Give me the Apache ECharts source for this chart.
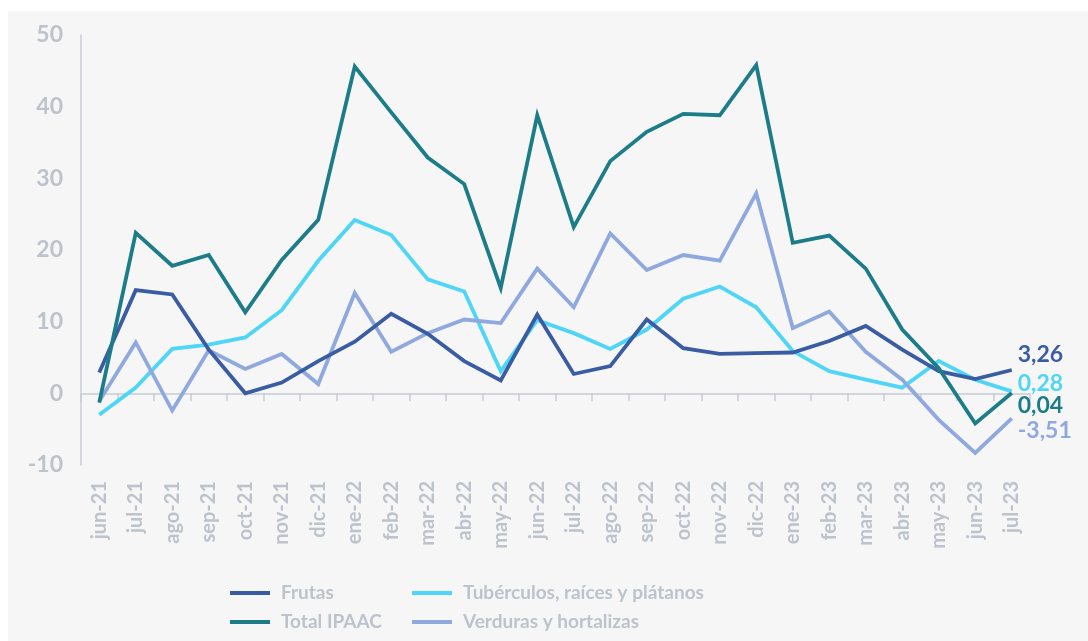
<!DOCTYPE html>
<html>
<head>
<meta charset="utf-8">
<script src="https://cdn.jsdelivr.net/npm/echarts@6/dist/echarts.min.js"></script>
<style>
html,body{margin:0;padding:0;background:#ffffff;}
#panel{position:absolute;left:8px;top:11px;width:1080px;height:630px;background:#f6f6f6;}
#chart{position:absolute;left:0;top:0;width:1088px;height:641px;}
</style>
</head>
<body>
<div id="panel"></div>
<div id="chart"></div>
<script>
const categories = ['jun-21','jul-21','ago-21','sep-21','oct-21','nov-21','dic-21','ene-22','feb-22','mar-22','abr-22','may-22','jun-22','jul-22','ago-22','sep-22','oct-22','nov-22','dic-22','ene-23','feb-23','mar-23','abr-23','may-23','jun-23','jul-23'];
const frutas = [2.9,14.4,13.8,6.1,0.0,1.5,4.5,7.2,11.1,8.3,4.5,1.8,11.0,2.7,3.8,10.3,6.3,5.5,5.6,5.7,7.3,9.4,6.1,3.1,2.0,3.26];
const tuberculos = [-3.0,0.8,6.2,6.8,7.8,11.6,18.5,24.2,22.1,15.9,14.2,3.1,10.2,8.4,6.2,8.9,13.2,14.9,12.0,5.9,3.1,1.9,0.8,4.5,1.9,0.28];
const totalIPAAC = [-1.3,22.4,17.8,19.3,11.3,18.6,24.2,45.6,39.2,32.9,29.2,14.7,38.8,23.2,32.4,36.5,39.0,38.8,45.8,21.0,22.0,17.4,8.9,3.5,-4.2,0.04];
const verduras = [-1.1,7.1,-2.4,6.0,3.4,5.5,1.3,14.0,5.8,8.4,10.3,9.8,17.4,12.0,22.3,17.2,19.3,18.5,27.9,9.1,11.4,5.8,1.9,-3.7,-8.3,-3.51];
const yTicks = {min:-10, max:50, interval:10};

const FONT = 'Lato';
const GREY = '#bcc3cc';

function mkSeries(name, data, color, dy) {
  return {
    name: name, type: 'line', data: data, xAxisIndex: 0, yAxisIndex: 0,
    symbol: 'none', showSymbol: false,
    lineStyle: {color: color, width: 3.8, join: 'miter'},
    itemStyle: {color: color},
    emphasis: {disabled: true},
    endLabel: {
      show: true, distance: 6, offset: [0, dy],
      formatter: p => p.value.toFixed(2).replace('.', ','),
      color: color, fontFamily: FONT, fontWeight: 'bold', fontSize: 23
    }
  };
}

const legendText = {color: GREY, fontFamily: FONT, fontWeight: 'bold', fontSize: 19, lineHeight: 20, padding: [0,0,0,6]};

const chart = echarts.init(document.getElementById('chart'), null, {renderer: 'canvas'});
chart.setOption({
  backgroundColor: 'transparent',
  animation: false,
  grid: {left: 81, right: 58, top: 35, bottom: 176, containLabel: false},
  xAxis: [
    {
      type: 'category', data: categories, position: 'bottom', boundaryGap: true,
      axisLine: {show: false, onZero: false}, axisTick: {show: false},
      axisLabel: {rotate: 90, margin: 16, interval: 0, color: GREY, fontFamily: FONT, fontWeight: 'bold', fontSize: 20}
    },
    {
      type: 'category', data: categories, position: 'bottom', boundaryGap: true,
      axisLine: {show: true, onZero: true, lineStyle: {color: '#c8cdd5', width: 1.5}},
      axisTick: {show: true, interval: 0, length: 8, inside: false, lineStyle: {color: '#c8cdd5', width: 1.5}},
      axisLabel: {show: false}
    }
  ],
  yAxis: {
    type: 'value', min: yTicks.min, max: yTicks.max, interval: yTicks.interval,
    axisLine: {show: true, onZero: false, lineStyle: {color: '#c8cdd5', width: 1.5}},
    axisTick: {show: false}, splitLine: {show: false},
    axisLabel: {margin: 18, color: GREY, fontFamily: FONT, fontWeight: 'bold', fontSize: 23}
  },
  legend: [
    {
      data: ['Frutas', 'Total IPAAC'], orient: 'vertical', left: 230, top: 583, height: 58,
      icon: 'rect', itemWidth: 40, itemHeight: 4, itemGap: 9, padding: 0,
      textStyle: legendText
    },
    {
      data: ['Tubérculos, raíces y plátanos', 'Verduras y hortalizas'], orient: 'vertical', left: 412, top: 583, height: 58,
      icon: 'rect', itemWidth: 40, itemHeight: 4, itemGap: 9, padding: 0,
      textStyle: legendText
    }
  ],
  series: [
    mkSeries('Tubérculos, raíces y plátanos', tuberculos, '#4fd6f7', -8),
    mkSeries('Verduras y hortalizas', verduras, '#8fa9de', 12),
    mkSeries('Frutas', frutas, '#3a5ca3', -15),
    mkSeries('Total IPAAC', totalIPAAC, '#1c7d88', 13)
  ]
});
</script>
</body>
</html>
